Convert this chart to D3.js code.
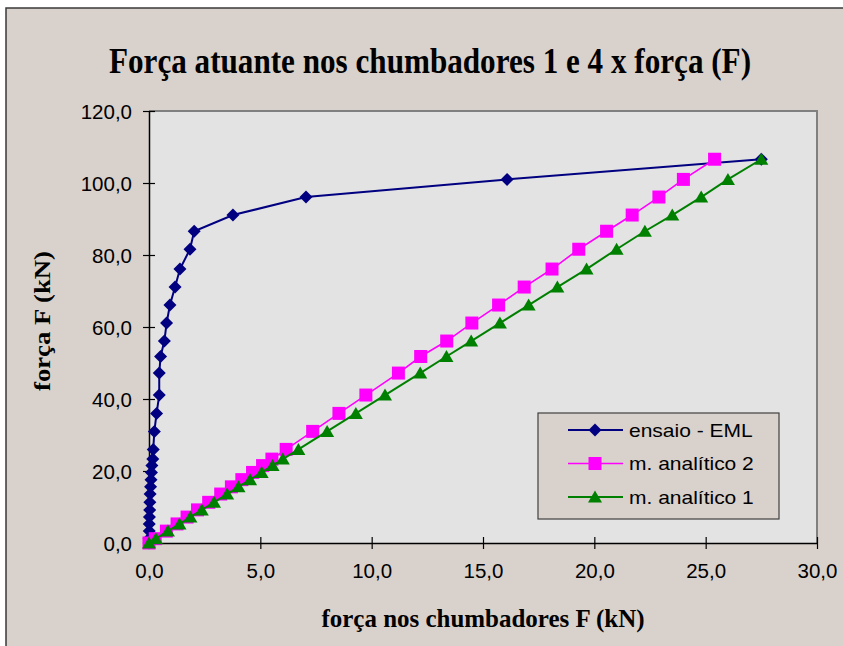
<!DOCTYPE html>
<html>
<head>
<meta charset="utf-8">
<script src="https://d3js.org/d3.v7.min.js"></script>
<style>
  body { margin: 0; background: #fff; }
  svg { display: block; }
</style>
</head>
<body>
<svg width="843" height="646"></svg>
<script>
// força F (kN) - common levels of the three series
var forceF = [0, 1.2, 3.3, 5.3, 7.2, 9.2, 11.3, 13.6, 15.6, 17.6, 19.6, 21.5, 23.3, 26.0,
              31.0, 36.0, 41.1, 47.2, 51.8, 56.1, 61.1, 66.1, 71.1, 76.1, 81.6, 86.6,
              91.1, 96.1, 101.0, 106.6];

// força nos chumbadores (kN)
var ensaioEML = [0, 0.0, 0.01, 0.01, 0.02, 0.03, 0.04, 0.05, 0.07, 0.09, 0.11, 0.13, 0.17, 0.19,
                 0.24, 0.34, 0.46, 0.46, 0.52, 0.69, 0.79, 0.94, 1.17, 1.39, 1.84, 2.03,
                 3.77, 7.05, 16.08, 27.5];
var analitico2 = [0, 0.28, 0.78, 1.26, 1.71, 2.18, 2.68, 3.22, 3.70, 4.17, 4.65, 5.10, 5.52, 6.16,
                  7.35, 8.53, 9.74, 11.2, 12.2, 13.37, 14.5, 15.7, 16.85, 18.1, 19.3, 20.55,
                  21.7, 22.9, 24.0, 25.4];
var analitico1 = [0, 0.31, 0.85, 1.37, 1.86, 2.37, 2.92, 3.51, 4.02, 4.54, 5.06, 5.55, 6.01, 6.71,
                  8.0, 9.29, 10.6, 12.18, 13.36, 14.47, 15.76, 17.05, 18.34, 19.65, 21.0, 22.27,
                  23.5, 24.8, 26.0, 27.5];

var seriesNames = ["ensaio - EML", "m. analítico 2", "m. analítico 1"];
var xTicks = [0, 5, 10, 15, 20, 25, 30];
var yTicks = [0, 20, 40, 60, 80, 100, 120];

var svg = d3.select("svg");
var bg = "#d9d1cb";

// outer chart frame (cut by the picture edge on the right and bottom)
svg.append("rect")
    .attr("x", 6).attr("y", 8)
    .attr("width", 900).attr("height", 700)
    .style("fill", bg)
    .style("stroke", "#3a3a3a")
    .style("stroke-width", 1.5);

var pLeft = 149, pRight = 817, pTop = 111, pBottom = 543;

var x = d3.scaleLinear().domain([0, 30]).range([pLeft, pRight]),
    y = d3.scaleLinear().domain([0, 120]).range([pBottom, pTop]);

var fmt = d3.formatLocale({decimal: ",", thousands: ".", grouping: [3], currency: ["", ""]}).format(".1f");

// plot area
svg.append("rect")
    .attr("x", pLeft).attr("y", pTop)
    .attr("width", pRight - pLeft).attr("height", pBottom - pTop)
    .style("fill", "#e3e3e3");
svg.append("path")
    .attr("d", "M" + pLeft + "," + pTop + "H" + pRight + "V" + pBottom)
    .style("fill", "none")
    .style("stroke", "#808080")
    .style("stroke-width", 2);

// axes
var xAxis = svg.append("g")
    .attr("transform", "translate(0," + pBottom + ")")
    .call(d3.axisBottom(x).tickValues(xTicks).tickSize(6).tickSizeOuter(0).tickFormat(fmt));
var yAxis = svg.append("g")
    .attr("transform", "translate(" + pLeft + ",0)")
    .call(d3.axisLeft(y).tickValues(yTicks).tickSize(6).tickSizeOuter(0).tickFormat(fmt));

xAxis.selectAll(".tick line").attr("y1", -6).attr("y2", 6);
yAxis.selectAll(".tick line").attr("x1", -6).attr("x2", 6);
[xAxis, yAxis].forEach(function(a) {
  a.select(".domain").style("stroke", "#000").style("stroke-width", 1.5);
  a.selectAll(".tick line").style("stroke", "#000").style("stroke-width", 1.2);
  a.selectAll(".tick text")
      .style("font-family", "Liberation Sans, Arial, sans-serif")
      .style("font-size", "20.5px")
      .style("fill", "#000");
});
xAxis.selectAll(".tick text").attr("y", 20).attr("dy", "0.71em");
yAxis.selectAll(".tick text").attr("x", -17).attr("dy", "0.36em");

// titles
svg.append("text")
    .attr("x", 430).attr("y", 73)
    .attr("text-anchor", "middle")
    .attr("textLength", 642)
    .attr("lengthAdjust", "spacingAndGlyphs")
    .style("font-family", "Liberation Serif, Times New Roman, serif")
    .style("font-weight", "bold")
    .style("font-size", "35px")
    .text("Força atuante nos chumbadores 1 e 4 x força (F)");

svg.append("text")
    .attr("x", 483).attr("y", 627)
    .attr("text-anchor", "middle")
    .attr("textLength", 323)
    .attr("lengthAdjust", "spacingAndGlyphs")
    .style("font-family", "Liberation Serif, Times New Roman, serif")
    .style("font-weight", "bold")
    .style("font-size", "25px")
    .text("força nos chumbadores F (kN)");

svg.append("text")
    .attr("transform", "translate(50,321) rotate(-90)")
    .attr("text-anchor", "middle")
    .attr("textLength", 140)
    .attr("lengthAdjust", "spacingAndGlyphs")
    .style("font-family", "Liberation Serif, Times New Roman, serif")
    .style("font-weight", "bold")
    .style("font-size", "24px")
    .text("força F (kN)");

// series
var diamond = "M0,-6.5L6.5,0L0,6.5L-6.5,0Z",
    square = "M-6.5,-6.5H6.5V6.5H-6.5Z",
    triangle = "M0,-6.5L7,5.5L-7,5.5Z";

var series = [
  {name: seriesNames[0], xs: ensaioEML, color: "#000080", marker: diamond, width: 2},
  {name: seriesNames[1], xs: analitico2, color: "#ff00ff", marker: square, width: 1.6},
  {name: seriesNames[2], xs: analitico1, color: "#008000", marker: triangle, width: 2}
];

var line = d3.line()
    .x(function(d) { return x(d[0]); })
    .y(function(d) { return y(d[1]); });

series.forEach(function(s) {
  var pts = s.xs.map(function(v, i) { return [v, forceF[i]]; });
  var g = svg.append("g");
  g.append("path")
      .datum(pts)
      .attr("d", line)
      .style("fill", "none")
      .style("stroke", s.color)
      .style("stroke-width", s.width);
  g.selectAll("path.mk")
      .data(pts)
      .enter()
      .append("path")
      .attr("class", "mk")
      .attr("d", s.marker)
      .attr("transform", function(d) { return "translate(" + x(d[0]) + "," + y(d[1]) + ")"; })
      .style("fill", s.color);
});

// legend
var lg = svg.append("g").attr("transform", "translate(538,413)");
lg.append("rect")
    .attr("width", 241).attr("height", 106)
    .style("fill", bg)
    .style("stroke", "#404040")
    .style("stroke-width", 1.2);
series.forEach(function(s, i) {
  var ry = 17 + i * 33.5;
  lg.append("line")
      .attr("x1", 30).attr("x2", 85)
      .attr("y1", ry).attr("y2", ry)
      .style("stroke", s.color)
      .style("stroke-width", s.width);
  lg.append("path")
      .attr("d", s.marker)
      .attr("transform", "translate(57," + ry + ")")
      .style("fill", s.color);
  lg.append("text")
      .attr("transform", "translate(91," + (ry + 6.5) + ") scale(1.2,1)")
      .style("font-family", "Liberation Sans, Arial, sans-serif")
      .style("font-size", "17.5px")
      .style("fill", "#000")
      .text(s.name);
});
</script>
</body>
</html>
